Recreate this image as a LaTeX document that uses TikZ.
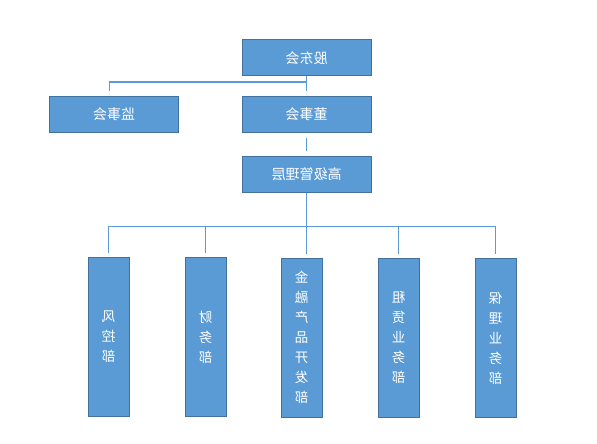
\documentclass[tikz,border=0pt]{standalone}
\usepackage{fontspec}
\newfontfamily\cjk{Noto Sans CJK SC}
\usetikzlibrary{positioning}
\definecolor{boxblue}{HTML}{5B9BD5}
\definecolor{boxedge}{HTML}{41719C}

\tikzset{
  orgbox/.style={draw=boxedge, fill=boxblue, line width=1pt, text=white,
    font=\cjk\fontsize{14}{16}\selectfont, minimum width=129pt, minimum height=36pt,
    inner sep=0pt, xscale=-1},
  deptbox/.style={orgbox, minimum width=41pt, minimum height=159pt, align=center,
    font=\cjk\fontsize{13.5}{20}\selectfont},
  link/.style={draw=boxblue, line width=1pt},
}

\begin{document}
\begin{tikzpicture}[x=1pt, y=-1pt]
    \useasboundingbox (0,0) rectangle (597,444);
    % 上层
    \node[orgbox] (gudong)  at (306.5,58)  {股东会};
    \node[orgbox] (jianshi) at (114,114)   {监事会};
    \node[orgbox] (dongshi) at (306.5,114) {董事会};
    \node[orgbox] (gaoji)   at (306.5,174) {高级管理层};
    % 各部门
    \node[deptbox] (fengkong) at (108.5,337) {风\\控\\部};
    \node[deptbox] (caiwu)    at (205.5,337) {财\\务\\部};
    \node[deptbox] (jinrong)  at (301.5,337.5) {金\\融\\产\\品\\开\\发\\部};
    \node[deptbox] (zulin)    at (398.5,337.5) {租\\赁\\业\\务\\部};
    \node[deptbox] (baoli)    at (495.5,338) {保\\理\\业\\务\\部};
    % 连线
    \coordinate (jsdrop) at (109,82);
    \coordinate (bar) at (109,226);
    \draw[link, shorten >=5pt] (gudong.south) -- (dongshi.north);
    \draw[link, shorten >=5pt] (gudong.south |- jsdrop) -- (jsdrop) -- (jsdrop |- jianshi.north);
    \draw[link, shorten <=5pt, shorten >=5pt] (dongshi.south) -- (gaoji.north);
    \draw[link, shorten >=4pt] (gaoji.south) -- (gaoji.south |- jinrong.north);
    \draw[link] (bar) -- (baoli.north |- bar);
    \foreach \d in {fengkong, caiwu, zulin, baoli}{
        \draw[link, shorten >=4pt] (\d.north |- bar) -- (\d.north);
    }
\end{tikzpicture}
\end{document}
